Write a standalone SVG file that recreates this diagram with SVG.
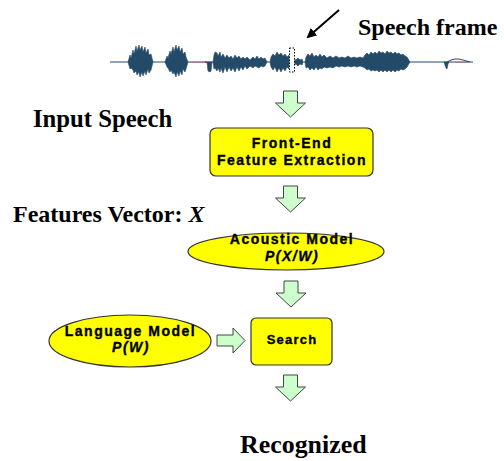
<svg xmlns="http://www.w3.org/2000/svg" xmlns:xlink="http://www.w3.org/1999/xlink" width="504" height="461" viewBox="0 0 504 461">
<style>
.lbl{font-family:"Liberation Serif","Times New Roman",serif;font-weight:bold;fill:#000}
.nt{font-family:"Liberation Sans",Arial,sans-serif;font-weight:bold;font-size:14px;letter-spacing:1.5px;fill:#000;stroke:#000;stroke-width:0.35px;text-anchor:middle}
.it{font-style:italic}
.box{fill:#ffff00;stroke:#333;stroke-width:1.2}
.blk{fill:#ccffcc;stroke:#444;stroke-width:1}
.wave{fill:#234a68;stroke:#234a68;stroke-width:0.6;stroke-linejoin:round}
</style>
<defs>
<path id="down" d="M-7,0 H7 V12 H15 L0,26 L-15,12 H-7 Z"/>
<marker id="ah" markerWidth="10" markerHeight="10" refX="8" refY="5" orient="auto" markerUnits="userSpaceOnUse">
<path d="M0,0 L10,5 L0,10 Z" fill="#000"/>
</marker>
</defs>

<g id="waveform">
<line x1="110" y1="62" x2="473" y2="62" stroke="#234a68" stroke-width="1"/>
<line x1="190" y1="62.5" x2="210" y2="62.5" stroke="#c04040" stroke-width="0.6" opacity="0.6"/>
<line x1="455" y1="62.5" x2="468" y2="62.5" stroke="#c04040" stroke-width="0.6" opacity="0.6"/>
<path class="wave" d="M128,62 L130,55 L131,58 L133,50 L134,54 L136,46 L137,51 L139,45 L140,50 L142,46 L143,52 L145,47 L146,53 L148,49 L149,55 L151,54 L153,62 L151,70 L149,73 L148,69 L146,75 L145,71 L143,76 L142,72 L140,77 L139,72 L137,75 L136,71 L134,73 L133,70 L131,68 L130,69 Z"/>
<path class="wave" d="M165,62 L167,56 L168,58 L170,51 L171,54 L173,47 L174,52 L176,45 L177,50 L179,46 L180,52 L182,48 L183,54 L185,52 L186,57 L188,62 L186,69 L185,72 L183,69 L182,75 L180,71 L179,76 L177,72 L176,77 L174,72 L173,74 L171,70 L170,72 L168,68 L167,67 Z"/>
<path class="wave" d="M205,62 L207,62 L208,71 L210,72 L211,71 L212,62 Z"/>
<path class="wave" d="M213,62 L214,55 L215,52 L217,53 L218,56 L220,52 L221,57 L223,54 L225,58 L227,55 L229,58 L231,56 L233,59 L235,55 L237,58 L239,56 L241,59 L243,57 L245,59 L247,57 L250,60 L253,57 L255,59 L257,56 L259,59 L261,57 L263,59 L265,58 L267,62 L265,66 L263,67 L261,66 L259,68 L257,67 L255,66 L253,68 L250,66 L247,69 L245,66 L243,70 L241,67 L239,71 L237,67 L235,72 L233,68 L231,71 L229,67 L227,72 L225,67 L223,73 L221,68 L220,72 L218,68 L217,71 L215,68 L214,69 Z"/>
<path class="wave" d="M270,62 L271,57 L273,54 L275,56 L277,52 L279,55 L281,53 L283,56 L285,54 L287,57 L289,55 L290,62 L289,69 L287,67 L285,71 L283,68 L281,72 L279,68 L277,72 L275,67 L273,70 L271,67 Z"/>
<path class="wave" d="M292,62 L294,59 L296,60 L298,58 L300,60 L302,59 L303,62 L302,65 L300,64 L298,66 L296,64 L294,65 Z"/>
<path class="wave" d="M305,62 L306,57 L308,54 L310,56 L312,53 L314,57 L316,55 L318,57 L320,54 L322,57 L324,55 L327,58 L330,56 L333,58 L336,56 L339,58 L342,57 L345,58 L348,56 L351,58 L354,57 L357,58 L360,57 L363,58 L365,55 L367,53 L369,55 L371,52 L373,54 L375,52 L377,54 L379,51 L381,53 L383,52 L385,54 L387,51 L389,53 L391,52 L393,54 L395,52 L397,54 L399,53 L401,55 L403,54 L405,56 L407,57 L410,62 L407,67 L405,69 L403,70 L401,69 L399,71 L397,70 L395,72 L393,70 L391,72 L389,70 L387,72 L385,70 L383,72 L381,70 L379,72 L377,70 L375,71 L373,70 L371,71 L369,69 L367,70 L365,68 L363,67 L360,66 L357,67 L354,66 L351,67 L348,66 L345,67 L342,66 L339,67 L336,66 L333,68 L330,67 L327,68 L324,67 L322,69 L320,68 L318,70 L316,67 L314,70 L312,68 L310,70 L308,67 L306,68 Z"/>
<path class="wave" d="M444,62 L446,68 L447,69 L448,64 L449,62 Z"/>
<path d="M447,62 Q455,57 463,60 L470,62" fill="none" stroke="#234a68" stroke-width="1"/>
<rect x="289.5" y="48" width="5" height="24" fill="#fff" stroke="#000" stroke-width="1" stroke-dasharray="1.5,1.5"/>
</g>

<g id="connectors">
<line x1="339" y1="10" x2="308" y2="37" stroke="#000" stroke-width="2" marker-end="url(#ah)"/>
<use xlink:href="#down" href="#down" class="blk" x="290.5" y="91"/>
<use xlink:href="#down" href="#down" class="blk" x="290.5" y="186"/>
<use xlink:href="#down" href="#down" class="blk" x="291" y="281"/>
<use xlink:href="#down" href="#down" class="blk" x="290.5" y="375"/>
<path class="blk" d="M217,335 H233 V328 L245,340.5 L233,353 V346 H217 Z"/>
</g>

<g id="labels">
<text class="lbl" x="358" y="35" font-size="24">Speech frame</text>
<text class="lbl" x="33" y="127" font-size="24.7">Input Speech</text>
<text class="lbl" x="13" y="222" font-size="24">Features Vector: <tspan class="it">X</tspan></text>
<text class="lbl" x="240" y="453" font-size="25.9">Recognized</text>
</g>

<g id="front-end">
<rect class="box" x="210" y="128" width="163" height="48" rx="6"/>
<text class="nt" x="292" y="148">Front-End</text>
<text class="nt" x="292" y="165">Feature Extraction</text>
</g>

<g id="acoustic-model">
<ellipse class="box" cx="286" cy="251.5" rx="98" ry="18.5"/>
<text class="nt" x="292" y="243.5">Acoustic Model</text>
<text class="nt it" x="292" y="261">P(X/W)</text>
</g>

<g id="language-model">
<ellipse class="box" cx="130" cy="341" rx="81" ry="26"/>
<text class="nt" x="130.5" y="336">Language Model</text>
<text class="nt it" x="131" y="352">P(W)</text>
</g>

<g id="search">
<rect class="box" x="251" y="318" width="81" height="47" rx="5"/>
<text class="nt" x="292" y="344" style="font-size:13px;letter-spacing:1.2px">Search</text>
</g>
</svg>
